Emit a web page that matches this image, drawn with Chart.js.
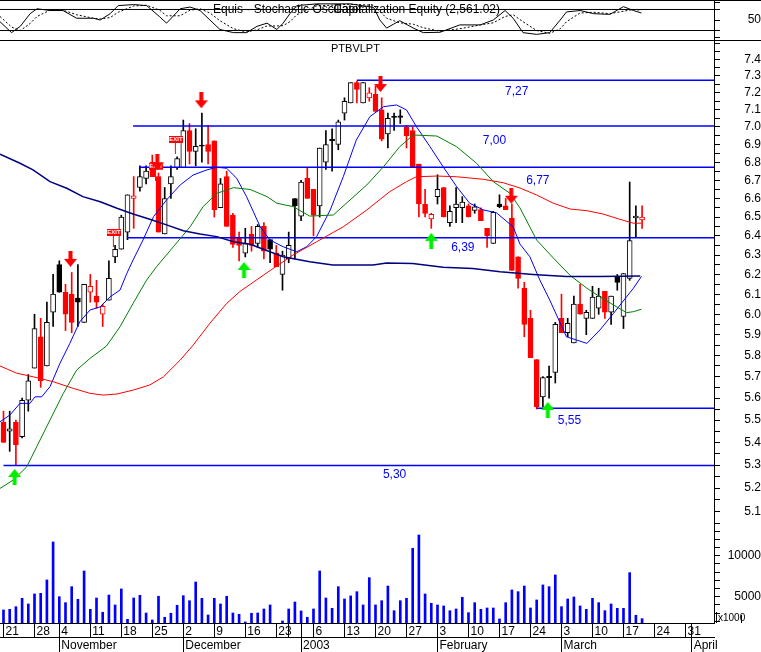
<!DOCTYPE html>
<html>
<head>
<meta charset="utf-8">
<title>PTBVLPT</title>
<script src="https://cdn.jsdelivr.net/npm/chart.js@4.4.1/dist/chart.umd.min.js"></script>
<style>
  html, body { margin: 0; padding: 0; background: #fff; }
  #board { position: relative; width: 761px; height: 652px; overflow: hidden; background: #fff; }
  #board canvas { position: absolute; left: 0; }
</style>
</head>
<body>
<div id="board">
  <canvas id="stochChart" width="761" height="41" style="top:0"></canvas>
  <canvas id="priceChart" width="761" height="489" style="top:41px"></canvas>
  <canvas id="volumeChart" width="761" height="122" style="top:530px"></canvas>
</div>
<script>
// daily bars, index 0 = 21 Oct 2002 ... 103 = 20 Mar 2003
const opens = [
  5.49, 5.45, 5.49, 5.425, 5.59, 5.74, 5.89, 5.75, 6.01, 6.25,
  6.11, 6.10, 6.08, 5.96, 6.11, 6.09, 6.00, 6.07, 6.29, 6.33,
  6.42, 6.60, 6.66, 6.71, 6.80, 6.72, 6.41, 6.68, 6.77, 6.77,
  6.98, 6.86, 6.895, 6.90, 6.92, 6.55, 6.72, 6.51, 6.39, 6.31,
  6.41, 6.36, 6.45, 6.38, 6.31, 6.20, 6.28, 6.60, 6.505, 6.71,
  6.65, 6.56, 6.80, 6.93, 6.90, 7.08, 7.14, 7.26, 7.14, 7.17,
  7.19, 7.10, 6.96, 7.06, 7.065, 7.00, 6.98, 6.79, 6.57, 6.49,
  6.61, 6.66, 6.47, 6.55, 6.55, 6.56, 6.535, 6.54, 6.44, 6.36,
  6.57, 6.56, 6.495, 6.29, 6.13, 5.98, 5.78, 5.605, 5.70, 5.72,
  5.98, 5.91, 5.86, 6.05, 5.98, 5.98, 6.03, 6.115, 6.01, 6.19,
  5.99, 6.18, 6.495, 6.485
];
const highs = [
  5.54, 5.54, 5.50, 5.60, 5.71, 6.00, 5.98, 6.06, 6.20, 6.27,
  6.15, 6.21, 6.25, 6.15, 6.20, 6.17, 6.05, 6.27, 6.35, 6.51,
  6.62, 6.72, 6.78, 6.78, 6.84, 6.74, 6.66, 6.78, 6.83, 7.04,
  7.02, 6.99, 7.08, 7.01, 6.92, 6.71, 6.75, 6.52, 6.42, 6.44,
  6.45, 6.46, 6.47, 6.38, 6.35, 6.32, 6.42, 6.60, 6.70, 6.77,
  6.65, 6.88, 6.98, 6.99, 7.04, 7.17, 7.26, 7.27, 7.26, 7.23,
  7.24, 7.17, 7.08, 7.08, 7.10, 7.01, 7.00, 6.79, 6.65, 6.52,
  6.73, 6.66, 6.56, 6.66, 6.61, 6.57, 6.57, 6.55, 6.44, 6.53,
  6.62, 6.60, 6.57, 6.29, 6.16, 6.02, 5.78, 5.70, 5.75, 5.96,
  6.10, 5.98, 6.09, 6.15, 6.02, 6.14, 6.13, 6.115, 6.09, 6.20,
  6.205, 6.69, 6.56, 6.56
];
const lows = [
  5.40, 5.36, 5.30, 5.42, 5.54, 5.74, 5.65, 5.75, 5.94, 6.11,
  5.92, 5.91, 5.94, 5.96, 6.06, 6.03, 5.94, 6.07, 6.26, 6.33,
  6.38, 6.44, 6.64, 6.68, 6.72, 6.42, 6.41, 6.60, 6.76, 6.77,
  6.79, 6.78, 6.80, 6.79, 6.50, 6.55, 6.45, 6.34, 6.27, 6.29,
  6.32, 6.34, 6.28, 6.26, 6.24, 6.12, 6.26, 6.28, 6.48, 6.60,
  6.40, 6.50, 6.76, 6.75, 6.87, 7.04, 7.14, 7.14, 7.14, 7.15,
  7.09, 6.92, 6.88, 6.98, 7.02, 6.88, 6.77, 6.50, 6.50, 6.44,
  6.57, 6.50, 6.45, 6.47, 6.47, 6.50, 6.52, 6.48, 6.34, 6.36,
  6.55, 6.54, 6.22, 6.13, 5.89, 5.79, 5.55, 5.56, 5.60, 5.67,
  5.91, 5.89, 5.86, 6.00, 5.90, 5.98, 6.00, 5.98, 5.95, 6.12,
  5.93, 6.17, 6.39, 6.44
];
const closes = [
  5.40, 5.46, 5.39, 5.59, 5.68, 5.93, 5.68, 5.96, 6.10, 6.11,
  6.00, 5.96, 6.06, 6.15, 6.14, 6.06, 6.04, 6.18, 6.33, 6.50,
  6.62, 6.615, 6.72, 6.75, 6.72, 6.42, 6.60, 6.72, 6.82, 6.98,
  6.86, 6.89, 6.89, 6.86, 6.54, 6.68, 6.45, 6.355, 6.35, 6.36,
  6.35, 6.45, 6.32, 6.33, 6.24, 6.30, 6.35, 6.56, 6.69, 6.60,
  6.51, 6.88, 6.90, 6.92, 7.03, 7.15, 7.26, 7.22, 7.26, 7.20,
  7.09, 6.93, 7.05, 7.055, 7.055, 6.95, 6.77, 6.57, 6.52, 6.515,
  6.65, 6.50, 6.53, 6.57, 6.58, 6.50, 6.555, 6.48, 6.40, 6.525,
  6.555, 6.54, 6.22, 6.18, 5.95, 5.79, 5.56, 5.695, 5.695, 5.95,
  5.91, 5.955, 6.05, 6.00, 6.01, 6.085, 6.09, 6.01, 6.09, 6.16,
  6.205, 6.375, 6.505, 6.50
];
const volumes = [
  3380, 3460, 3780, 4800, 4110, 5330, 5410, 7040, 11670, 5000,
  4270, 6220, 4680, 8130, 3460, 4840, 3100, 5200, 3990, 5940,
  2240, 4840, 5170, 3010, 2160, 5050, 2490, 2980, 3950, 5120,
  4510, 6790, 4800, 2770, 4800, 4110, 5050, 3010, 2850, 1920,
  2980, 3010, 3500, 3990, null, 2040, 3500, 4350, 3260, 2490,
  3500, 8130, 4840, 3580, 6220, 4720, 5090, 5610, 3990, 7320,
  3990, 4510, 6300, 3290, 4510, 4800, 10900, 12520, 5330, 4190,
  3990, 3870, 3290, 3500, 4920, 3050, 4270, 3460, 3620, 3620,
  2280, 4270, 5820, 5610, 6300, 3620, 4600, 6430, 6220, 7650,
  3780, 4720, 4960, 3870, 3460, 4800, 4270, 3290, 4110, 3580,
  3580, 7930, 2730, 2320
];

// moving averages (bar index, price)
const maFastIdx = [-0.56, 1.05, 2.66, 4.27, 5.08, 6.16, 7.5, 9.11, 10.7, 12.3, 13.95, 15.6, 17.2, 18.8, 19.9, 20.9, 22.5, 24.2, 26.3, 28.5, 30.6, 32.8, 34.4, 36, 37.6, 39.2, 41.4, 43, 45.1, 47.3, 48.9, 50.5, 52.7, 54.8, 56.9, 59.1, 61.3, 63.4, 65, 66.6, 68.8, 70.9, 73.1, 75.2, 77.4, 79.5, 82.2, 83.3, 84.9, 86.5, 88.1, 90.8, 94.1, 96.2, 98.4, 100.5, 101.6, 102.9];
const maFast = [5.492, 5.523, 5.576, 5.576, 5.606, 5.606, 5.653, 5.763, 5.858, 5.963, 6.021, 6.037, 6.087, 6.121, 6.206, 6.274, 6.378, 6.502, 6.592, 6.674, 6.729, 6.757, 6.772, 6.766, 6.711, 6.610, 6.448, 6.378, 6.343, 6.317, 6.343, 6.396, 6.538, 6.719, 6.925, 7.060, 7.118, 7.128, 7.099, 7.002, 6.887, 6.775, 6.664, 6.574, 6.538, 6.523, 6.448, 6.357, 6.291, 6.172, 6.071, 5.890, 5.858, 5.923, 6.005, 6.087, 6.130, 6.190];
const maMidIdx = [-0.56, 1.58, 3.74, 5.35, 7.5, 9.65, 11.8, 13.95, 16.6, 18.8, 20.9, 23.1, 24.7, 27.4, 30.1, 32.2, 34.4, 37.1, 39.8, 42.5, 44.1, 46.7, 49.4, 53.2, 55.9, 58.6, 61.3, 63.9, 66.1, 69.9, 73.1, 76.3, 79, 81.7, 83.3, 86, 88.7, 91.4, 94.1, 96.2, 98.4, 100.5, 101.6, 102.9];
const maMid = [5.199, 5.235, 5.292, 5.380, 5.500, 5.622, 5.731, 5.786, 5.845, 5.939, 6.054, 6.172, 6.240, 6.343, 6.448, 6.556, 6.628, 6.659, 6.649, 6.610, 6.574, 6.556, 6.505, 6.511, 6.592, 6.674, 6.775, 6.887, 6.954, 6.948, 6.887, 6.794, 6.692, 6.628, 6.549, 6.378, 6.284, 6.195, 6.130, 6.087, 6.046, 6.008, 6.013, 6.025];
const maSlowIdx = [-0.56, 2.13, 4.81, 8.03, 11.26, 13.95, 16.1, 18.3, 20.9, 23.6, 25.8, 28.5, 30.6, 33.3, 36, 38.1, 39.8, 43, 46.7, 50.5, 54.8, 58.6, 62.3, 65, 66.6, 69.9, 73.1, 77.4, 80.6, 83.3, 86, 88.7, 91.4, 94.1, 96.7, 99.4, 101.6, 102.9];
const maSlow = [5.750, 5.716, 5.699, 5.676, 5.645, 5.622, 5.614, 5.619, 5.637, 5.661, 5.699, 5.778, 5.850, 5.956, 6.054, 6.113, 6.150, 6.220, 6.300, 6.369, 6.448, 6.538, 6.637, 6.692, 6.719, 6.723, 6.719, 6.705, 6.686, 6.657, 6.619, 6.574, 6.543, 6.534, 6.516, 6.488, 6.467, 6.467];
const maLongIdx = [-0.56, 2.66, 4.76, 7.5, 10.2, 12.8, 15.6, 18.3, 20.9, 23.6, 26.3, 29, 31.7, 34.4, 37.1, 39.8, 45.1, 49.4, 53.1, 59.6, 61.8, 66, 70.9, 75.7, 80.1, 85.4, 90.8, 96.2, 102.7];
const maLong = [6.845, 6.794, 6.757, 6.692, 6.656, 6.610, 6.582, 6.547, 6.516, 6.488, 6.458, 6.427, 6.410, 6.396, 6.369, 6.356, 6.291, 6.265, 6.248, 6.248, 6.259, 6.256, 6.237, 6.230, 6.214, 6.200, 6.189, 6.189, 6.192];

// stochastic panel
const stochIdx = [-0.56, 1.3, 2.7, 4.3, 5.4, 7.5, 9.6, 11.8, 14.5, 15.6, 17.2, 18.5, 21, 23.1, 25.2, 26.3, 28.5, 30.1, 31.7, 33.3, 34.9, 37.1, 39.2, 40.9, 42.5, 44.1, 45.1, 46.2, 47.3, 50.5, 55.9, 59.7, 60.7, 61.8, 63.9, 66.1, 67.7, 70.4, 73.6, 76.9, 79, 80.9, 82.2, 83.8, 86, 88.1, 89.8, 90.8, 93, 95.2, 97.8, 100, 101.6, 102.9];
const stochK = [45, 14, 32, 68, 82, 77, 77, 55, 55, 50, 68, 91, 94, 91, 59, 41, 82, 87, 77, 50, 23, 14, 14, 32, 41, 23, 41, 68, 91, 96, 96, 86, 50, 27, 48, 27, 14, 15, 36, 36, 50, 77, 55, 14, 9, 14, 50, 73, 77, 68, 66, 88, 77, 70];
const stochD = [60, 30, 20, 40, 60, 78, 78, 65, 55, 53, 57, 72, 90, 92, 78, 62, 62, 78, 82, 70, 48, 25, 16, 22, 33, 33, 34, 45, 65, 90, 95, 92, 75, 55, 42, 38, 28, 18, 25, 36, 42, 60, 65, 45, 20, 12, 25, 45, 70, 72, 68, 75, 80, 78];
const stochLevels = [80, 20];
const stochTicks = [0, 20, 50, 80, 100];

// support / resistance lines
const levelPrice = [7.275, 7.005, 6.772, 6.39, 5.554, 5.298];
const levelFrom = [57, 20.9, 21.9, 19.9, 86, 0];
const levelText = ['7,27', '7,00', '6,77', '6,39', '5,55', '5,30'];
const levelTextIdx = [80.9, 77.3, 84.3, 72.2, 89.4, 61.2];
const levelTextPrice = [7.204, 6.92, 6.70, 6.34, 5.495, 5.257];

// expert signals
const sellIdx = [10.8, 24.8, 31.9, 60.8, 81.9];
const sellPrice = [6.28, 6.80, 7.155, 7.252, 6.615];
const buyIdx = [1.8, 38.8, 69, 87.8];
const buyPrice = [5.248, 6.223, 6.374, 5.546];
const exitIdx = [17.8, 24.6, 27.8];
const exitPrice = [6.389, 6.747, 6.897];

// axes
const priceLabels = ['5.1','5.2','5.3','5.4','5.5','5.6','5.7','5.8','5.9','6.0','6.1','6.2','6.3','6.4','6.5','6.6','6.7','6.8','6.9','7.0','7.1','7.2','7.3','7.4'];
const volumeLabels = [5000, 10000];
const dayTickIdx  = [0, 5, 9, 14, 19, 24, 29, 34, 39, 44, 46, 48, 50, 55, 60, 65, 70, 75, 80, 85, 90, 95, 100, 105, 110, 111];
const dayTickText = ['21','28','4','11','18','25','2','9','16','23','','','6','13','20','27','3','10','17','24','3','10','17','24','31',''];
const monthTickIdx  = [9, 29, 48, 70, 90, 111];
const monthTickText = ['November', 'December', '2003', 'February', 'March', 'April'];

const X_MIN = -0.565, X_MAX = 114.6;
const RED = '#ff0000', BLACK = '#000000', BLUE = '#0000ff', GREEN = '#008000', NAVY = '#000080';
const FONT = '"Liberation Sans", Arial, sans-serif';
Chart.defaults.font.family = FONT;
Chart.defaults.font.size = 12;
Chart.defaults.color = '#000';

const pts = (xs, ys) => xs.map((x, i) => ({ x: x, y: ys[i] }));

function makeArrow(color, down) {
  const c = document.createElement('canvas');
  c.width = 13; c.height = 16;
  const g = c.getContext('2d');
  g.fillStyle = color;
  g.beginPath();
  if (down) {
    g.moveTo(4.5, 0); g.lineTo(8.5, 0); g.lineTo(8.5, 8); g.lineTo(13, 8);
    g.lineTo(6.5, 16); g.lineTo(0, 8); g.lineTo(4.5, 8);
  } else {
    g.moveTo(4.5, 16); g.lineTo(8.5, 16); g.lineTo(8.5, 8); g.lineTo(13, 8);
    g.lineTo(6.5, 0); g.lineTo(0, 8); g.lineTo(4.5, 8);
  }
  g.closePath();
  g.fill();
  return c;
}
function makeExit() {
  const c = document.createElement('canvas');
  c.width = 14; c.height = 18;
  const g = c.getContext('2d');
  g.fillStyle = RED;
  g.fillRect(0, 0, 14, 7);
  g.fillRect(6, 7, 1, 11);
  g.fillStyle = '#fff';
  g.font = 'bold 6px ' + FONT;
  g.textAlign = 'center';
  g.textBaseline = 'middle';
  g.fillText('EXIT', 7, 3.8);
  return c;
}

function hiddenX() {
  return { type: 'linear', min: X_MIN, max: X_MAX, bounds: 'data', offset: false, display: false, grid: { offset: false } };
}
function rightAxis(pad) {
  return {
    position: 'right',
    bounds: 'data',
    grid: { drawOnChartArea: false, drawTicks: true, tickLength: 6, color: BLACK },
    border: { display: true, color: BLACK },
    afterFit(s) { s.width = 47; s.paddingTop = 0; s.paddingBottom = 0; },
    ticks: { autoSkip: false, crossAlign: 'far', padding: pad, color: BLACK, font: { size: 12 } }
  };
}
const baseOptions = {
  responsive: false,
  animation: false,
  events: [],
  devicePixelRatio: 1,
  plugins: { legend: { display: false }, tooltip: { enabled: false } }
};

// ---------- stochastic ----------
const stochY = rightAxis(24);
stochY.min = -7; stochY.max = 107;
stochY.afterBuildTicks = s => { s.ticks = stochTicks.map(v => ({ value: v })); };
stochY.ticks.callback = v => (v === 50 ? '50' : '');

new Chart(document.getElementById('stochChart'), {
  type: 'line',
  data: {
    datasets: [
      ...stochLevels.map(v => ({ data: [{ x: X_MIN, y: v }, { x: X_MAX, y: v }], borderColor: BLACK, borderWidth: 1, pointRadius: 0 })),
      { data: pts(stochIdx, stochD), borderColor: BLACK, borderWidth: 1, borderDash: [2, 2], pointRadius: 0 },
      { data: pts(stochIdx, stochK), borderColor: BLACK, borderWidth: 1, pointRadius: 0 }
    ]
  },
  options: Object.assign({}, baseOptions, {
    layout: { padding: { bottom: 1 }, autoPadding: false },
    scales: { x: hiddenX(), y: stochY }
  }),
  plugins: [{
    id: 'stochFrame',
    afterDatasetsDraw(chart) {
      const ctx = chart.ctx;
      ctx.save();
      ctx.fillStyle = BLACK;
      ctx.fillRect(0, 0, 761, 1);
      ctx.fillRect(0, 40, 761, 1);
      ctx.font = '12px ' + FONT;
      ctx.textBaseline = 'middle';
      ctx.fillText('Equis - Stochastic Oscillator', 213, 10);
      ctx.textAlign = 'right';
      ctx.fillText('Capitalization Equity (2,561.02)', 500, 10);
      ctx.restore();
    }
  }]
});

// ---------- price ----------
const candleColor = closes.map((c, i) => ((i === 0 ? c < opens[0] : c < closes[i - 1]) ? RED : BLACK));
const bodyFill = opens.map((o, i) => (closes[i] < o ? candleColor[i] : '#ffffff'));
const wickData = highs.map((h, i) => ({ x: i, y: [lows[i], h] }));
const bodyData = opens.map((o, i) => {
  const lo = Math.min(o, closes[i]);
  const hi = Math.max(Math.max(o, closes[i]), lo + 0.006);
  return { x: i, y: [lo, hi] };
});

const priceY = rightAxis(20);
priceY.type = 'logarithmic';
priceY.min = 5.024; priceY.max = 7.5133;
priceY.afterBuildTicks = s => {
  const t = [];
  for (let k = 101; k <= 150; k++) t.push({ value: k / 20 });
  s.ticks = t;
};
priceY.ticks.callback = v => {
  const s = v.toFixed(1);
  return Math.abs(v * 10 - Math.round(v * 10)) < 1e-6 && priceLabels.includes(s) ? s : '';
};

const lineSet = (data, color, width, order) => ({ type: 'line', data, borderColor: color, borderWidth: width, pointRadius: 0, order });

new Chart(document.getElementById('priceChart'), {
  type: 'bar',
  data: {
    datasets: [
      { type: 'bar', data: wickData, backgroundColor: candleColor, barThickness: 1, grouped: false, order: 10 },
      { type: 'bar', data: bodyData, backgroundColor: bodyFill, borderColor: candleColor, borderWidth: 1,
        borderSkipped: false, barThickness: 5, grouped: false, order: 9 },
      ...levelPrice.map((v, i) => lineSet([{ x: levelFrom[i], y: v }, { x: X_MAX, y: v }], BLUE, 1.5, 5)),
      lineSet(pts(maLongIdx, maLong), NAVY, 1.5, 4),
      lineSet(pts(maSlowIdx, maSlow), RED, 1, 4),
      lineSet(pts(maMidIdx, maMid), GREEN, 1, 4),
      lineSet(pts(maFastIdx, maFast), BLUE, 1, 4),
      { type: 'scatter', data: pts(exitIdx, exitPrice), pointStyle: makeExit(), pointRadius: 6, order: 2 },
      { type: 'scatter', data: pts(sellIdx, sellPrice), pointStyle: makeArrow(RED, true), pointRadius: 6, order: 1 },
      { type: 'scatter', data: pts(buyIdx, buyPrice), pointStyle: makeArrow('#00ee00', false), pointRadius: 6, order: 1 }
    ]
  },
  options: Object.assign({}, baseOptions, {
    layout: { padding: 0, autoPadding: false },
    scales: { x: hiddenX(), y: priceY }
  }),
  plugins: [{
    id: 'priceText',
    afterDatasetsDraw(chart) {
      const { ctx, scales } = chart;
      ctx.save();
      ctx.font = '12px ' + FONT;
      ctx.textBaseline = 'middle';
      ctx.fillStyle = BLUE;
      levelText.forEach((t, i) => {
        ctx.fillText(t, scales.x.getPixelForValue(levelTextIdx[i]), scales.y.getPixelForValue(levelTextPrice[i]));
      });
      ctx.fillStyle = BLACK;
      ctx.font = '11px ' + FONT;
      ctx.fillText('PTBVLPT', 331, 8);
      ctx.restore();
    }
  }]
});

// ---------- volume + date axis ----------
const volY = rightAxis(4);
volY.min = 1790; volY.max = 13130;
volY.afterBuildTicks = s => {
  const t = [];
  for (let v = 2000; v <= 13000; v += 1000) t.push({ value: v });
  s.ticks = t;
};
volY.ticks.callback = v => (volumeLabels.includes(v) ? String(v) : '');

function dateAxis(idx, text, h, extra) {
  return Object.assign({
    type: 'linear', position: 'bottom', min: X_MIN, max: X_MAX, bounds: 'data', offset: false,
    afterBuildTicks: s => { s.ticks = idx.map(v => ({ value: v })); },
    afterFit: s => { s.height = h; s.paddingLeft = 0; s.paddingRight = 0; },
    grid: { drawOnChartArea: false, drawTicks: true, tickLength: h, color: BLACK, offset: false },
    border: { display: true, color: BLACK },
    ticks: { autoSkip: false, maxRotation: 0, minRotation: 0, align: 'start', labelOffset: 2,
             padding: -h + 1, color: BLACK, font: { size: 12 }, callback: (v, i) => text[i] }
  }, extra || {});
}

new Chart(document.getElementById('volumeChart'), {
  type: 'bar',
  data: {
    datasets: [{
      data: volumes.map((v, i) => ({ x: i, y: v })),
      backgroundColor: BLUE, barThickness: 2, grouped: false
    }]
  },
  options: Object.assign({}, baseOptions, {
    layout: { padding: 0, autoPadding: false },
    scales: {
      x: dateAxis(dayTickIdx, dayTickText, 14),
      xMonth: dateAxis(monthTickIdx, monthTickText, 15, { axis: 'x' }),
      y: volY
    }
  }),
  plugins: [{
    id: 'volText',
    afterDraw(chart) {
      const ctx = chart.ctx;
      ctx.save();
      ctx.fillStyle = BLACK;
      ctx.fillRect(716, 82, 1, 11);
      ctx.fillRect(741, 85, 1, 8);
      ctx.font = '10px ' + FONT;
      ctx.textBaseline = 'middle';
      ctx.fillText('x1000', 718, 88);
      ctx.restore();
    }
  }]
});
</script>
</body>
</html>
